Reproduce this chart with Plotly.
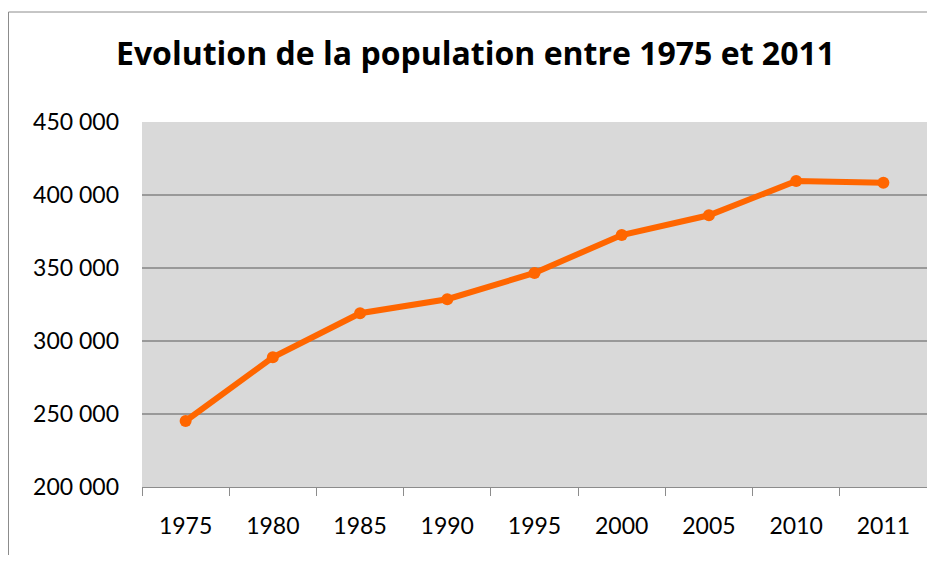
import plotly.graph_objects as go

years = ["1975", "1980", "1985", "1990", "1995", "2000", "2005", "2010", "2011"]
population = [245200, 288800, 319000, 328600, 346600, 372600, 386100, 409600, 408400]
y_ticks = [200000, 250000, 300000, 350000, 400000, 450000]
title_text = "Evolution de la population entre 1975 et 2011"

# page body has an 8px margin; figure sized so it fits without scrollbars
W, H = 919, 547
L, R, T, B = 134, 0, 114, 68
pw, ph = W - L - R, H - T - B

def px_x(p):
    return (p - L) / pw

def px_y(p):
    return (H - B - p) / ph

fig = go.Figure()
fig.add_trace(go.Scatter(
    x=years, y=population, mode="lines+markers",
    line=dict(color="#FF6600", width=6),
    marker=dict(color="#FF6600", size=12),
    hoverinfo="x+y", showlegend=False,
))

FONT = "Lato, 'Open Sans', sans-serif"

fig.update_layout(
    width=W, height=H,
    margin=dict(l=L, r=R, t=T, b=B),
    paper_bgcolor="white",
    plot_bgcolor="#D9D9D9",
    separators=", ",
    font=dict(family=FONT, color="black", size=23),
    title=dict(text="<b>" + title_text + "</b>", x=(475.5 - 8) / W, xanchor="center",
               xref="container", y=1 - (54 - 8) / H, yanchor="middle", yref="container",
               font=dict(family="'Open Sans', sans-serif", size=32, color="black")),
    xaxis=dict(
        type="category", tickson="boundaries", ticks="outside", ticklen=8,
        tickcolor="#8C8C8C", tickwidth=1, showgrid=False,
        showline=True, linecolor="#8C8C8C", linewidth=1,
        ticklabelstandoff=18, tickfont=dict(size=23),
        range=[-0.5, len(years) - 0.5], fixedrange=True,
    ),
    yaxis=dict(
        range=[200000, 450000], tickvals=y_ticks, tickformat=",d",
        showgrid=True, gridcolor="#999999", gridwidth=1.5,
        showline=False, zeroline=False, ticks="",
        ticklabelstandoff=22, tickfont=dict(size=23), fixedrange=True,
    ),
    shapes=[
        dict(type="line", xref="paper", yref="paper",
             x0=px_x(0.5), x1=px_x(0.5), y0=px_y(H + 5), y1=px_y(4),
             line=dict(color="#8C8C8C", width=1)),
        dict(type="line", xref="paper", yref="paper",
             x0=px_x(0.5), x1=px_x(W + 5), y0=px_y(4), y1=px_y(4),
             line=dict(color="#8C8C8C", width=1)),
    ],
)

fig.write_html("out.html")
